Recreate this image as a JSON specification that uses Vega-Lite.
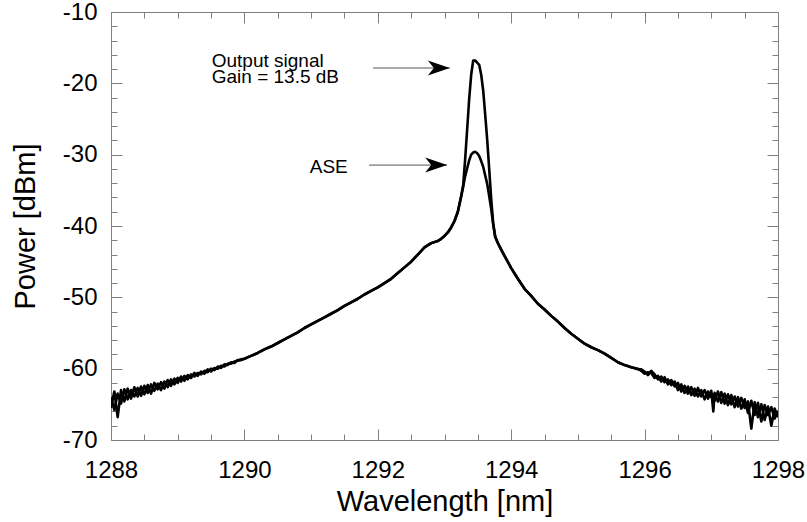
{
  "$schema": "https://vega.github.io/schema/vega-lite/v6.json",
  "width": 667,
  "height": 428,
  "autosize": {"type": "none"},
  "padding": {"left": 111, "top": 12, "right": 29, "bottom": 82},
  "background": "white",
  "config": {"view": {"stroke": null}, "font": "Liberation Sans"},
  "datasets": {
    "spectrum": [
      {"w": 1288.00, "sig": -65.5, "ase": -64.0},
      {"w": 1288.05, "sig": -63.2, "ase": -65.8},
      {"w": 1288.10, "sig": -66.8, "ase": -63.5},
      {"w": 1288.15, "sig": -63.0, "ase": -64.9},
      {"w": 1288.20, "sig": -64.6, "ase": -62.9},
      {"w": 1288.25, "sig": -62.8, "ase": -64.3},
      {"w": 1288.30, "sig": -64.2, "ase": -63.0},
      {"w": 1288.35, "sig": -62.6, "ase": -63.9},
      {"w": 1288.40, "sig": -63.9, "ase": -62.7},
      {"w": 1288.45, "sig": -62.5, "ase": -63.8},
      {"w": 1288.50, "sig": -63.6, "ase": -62.4},
      {"w": 1288.55, "sig": -62.3, "ase": -63.4},
      {"w": 1288.60, "sig": -63.5, "ase": -62.2},
      {"w": 1288.65, "sig": -62.0, "ase": -63.1},
      {"w": 1288.70, "sig": -62.9, "ase": -62.1},
      {"w": 1288.75, "sig": -61.9, "ase": -63.0},
      {"w": 1288.80, "sig": -62.8, "ase": -61.8},
      {"w": 1288.85, "sig": -61.6, "ase": -62.6},
      {"w": 1288.90, "sig": -62.4, "ase": -61.5},
      {"w": 1288.95, "sig": -61.4, "ase": -62.2},
      {"w": 1289.00, "sig": -62.0, "ase": -61.3},
      {"w": 1289.05, "sig": -61.1, "ase": -61.8},
      {"w": 1289.10, "sig": -61.7, "ase": -61.0},
      {"w": 1289.15, "sig": -60.9, "ase": -61.5},
      {"w": 1289.20, "sig": -61.3, "ase": -60.8},
      {"w": 1289.25, "sig": -60.6, "ase": -61.1},
      {"w": 1289.30, "sig": -61.0, "ase": -60.6},
      {"w": 1289.35, "sig": -60.4, "ase": -60.8},
      {"w": 1289.40, "sig": -60.7, "ase": -60.3},
      {"w": 1289.45, "sig": -60.1, "ase": -60.5},
      {"w": 1289.50, "sig": -60.4, "ase": -60.0},
      {"w": 1289.55, "sig": -59.9, "ase": -60.2},
      {"w": 1289.60, "sig": -60.0, "ase": -59.7},
      {"w": 1289.65, "sig": -59.6, "ase": -59.9},
      {"w": 1289.70, "sig": -59.7, "ase": -59.4},
      {"w": 1289.75, "sig": -59.3, "ase": -59.5},
      {"w": 1289.80, "sig": -59.3, "ase": -59.1},
      {"w": 1289.85, "sig": -59.0, "ase": -59.2},
      {"w": 1289.90, "sig": -58.9, "ase": -58.8},
      {"w": 1289.95, "sig": -58.7, "ase": -58.8},
      {"w": 1290.00, "sig": -58.6, "ase": -58.6},
      {"w": 1290.10, "sig": -58.2, "ase": -58.2},
      {"w": 1290.20, "sig": -57.8, "ase": -57.8},
      {"w": 1290.30, "sig": -57.3, "ase": -57.3},
      {"w": 1290.40, "sig": -56.9, "ase": -56.9},
      {"w": 1290.50, "sig": -56.4, "ase": -56.4},
      {"w": 1290.60, "sig": -55.9, "ase": -55.9},
      {"w": 1290.70, "sig": -55.4, "ase": -55.4},
      {"w": 1290.80, "sig": -54.9, "ase": -54.9},
      {"w": 1290.90, "sig": -54.3, "ase": -54.3},
      {"w": 1291.00, "sig": -53.8, "ase": -53.8},
      {"w": 1291.10, "sig": -53.3, "ase": -53.3},
      {"w": 1291.20, "sig": -52.8, "ase": -52.8},
      {"w": 1291.30, "sig": -52.3, "ase": -52.3},
      {"w": 1291.40, "sig": -51.8, "ase": -51.8},
      {"w": 1291.50, "sig": -51.2, "ase": -51.2},
      {"w": 1291.60, "sig": -50.7, "ase": -50.7},
      {"w": 1291.70, "sig": -50.2, "ase": -50.2},
      {"w": 1291.80, "sig": -49.6, "ase": -49.6},
      {"w": 1291.90, "sig": -49.1, "ase": -49.1},
      {"w": 1292.00, "sig": -48.6, "ase": -48.6},
      {"w": 1292.10, "sig": -48.0, "ase": -48.0},
      {"w": 1292.20, "sig": -47.4, "ase": -47.4},
      {"w": 1292.30, "sig": -46.6, "ase": -46.6},
      {"w": 1292.40, "sig": -45.8, "ase": -45.8},
      {"w": 1292.50, "sig": -45.0, "ase": -45.0},
      {"w": 1292.60, "sig": -44.0, "ase": -44.0},
      {"w": 1292.70, "sig": -43.0, "ase": -43.0},
      {"w": 1292.80, "sig": -42.4, "ase": -42.4},
      {"w": 1292.90, "sig": -42.1, "ase": -42.1},
      {"w": 1292.95, "sig": -41.8, "ase": -41.8},
      {"w": 1293.00, "sig": -41.4, "ase": -41.4},
      {"w": 1293.05, "sig": -40.9, "ase": -40.9},
      {"w": 1293.10, "sig": -40.2, "ase": -40.2},
      {"w": 1293.15, "sig": -39.3, "ase": -39.3},
      {"w": 1293.20, "sig": -38.0, "ase": -38.0},
      {"w": 1293.25, "sig": -35.8, "ase": -35.9},
      {"w": 1293.28, "sig": -34.3, "ase": -34.5},
      {"w": 1293.31, "sig": -30.6, "ase": -33.0},
      {"w": 1293.34, "sig": -26.4, "ase": -31.9},
      {"w": 1293.37, "sig": -22.2, "ase": -30.8},
      {"w": 1293.40, "sig": -18.8, "ase": -30.0},
      {"w": 1293.43, "sig": -16.8, "ase": -29.7},
      {"w": 1293.46, "sig": -16.8, "ase": -29.6},
      {"w": 1293.49, "sig": -17.1, "ase": -29.8},
      {"w": 1293.52, "sig": -17.4, "ase": -30.2},
      {"w": 1293.55, "sig": -18.8, "ase": -30.9},
      {"w": 1293.58, "sig": -21.0, "ase": -31.7},
      {"w": 1293.61, "sig": -24.4, "ase": -32.9},
      {"w": 1293.64, "sig": -27.9, "ase": -34.1},
      {"w": 1293.67, "sig": -32.0, "ase": -35.8},
      {"w": 1293.70, "sig": -36.2, "ase": -37.6},
      {"w": 1293.73, "sig": -39.6, "ase": -39.8},
      {"w": 1293.76, "sig": -41.5, "ase": -41.5},
      {"w": 1293.80, "sig": -42.4, "ase": -42.4},
      {"w": 1293.85, "sig": -43.3, "ase": -43.3},
      {"w": 1293.90, "sig": -44.2, "ase": -44.2},
      {"w": 1294.00, "sig": -45.9, "ase": -45.9},
      {"w": 1294.10, "sig": -47.4, "ase": -47.4},
      {"w": 1294.20, "sig": -48.8, "ase": -48.8},
      {"w": 1294.30, "sig": -49.8, "ase": -49.8},
      {"w": 1294.40, "sig": -50.9, "ase": -50.9},
      {"w": 1294.50, "sig": -51.7, "ase": -51.7},
      {"w": 1294.60, "sig": -52.6, "ase": -52.6},
      {"w": 1294.70, "sig": -53.4, "ase": -53.4},
      {"w": 1294.80, "sig": -54.3, "ase": -54.3},
      {"w": 1294.90, "sig": -55.1, "ase": -55.1},
      {"w": 1295.00, "sig": -55.8, "ase": -55.8},
      {"w": 1295.10, "sig": -56.5, "ase": -56.5},
      {"w": 1295.20, "sig": -57.0, "ase": -57.0},
      {"w": 1295.30, "sig": -57.4, "ase": -57.4},
      {"w": 1295.40, "sig": -57.9, "ase": -57.9},
      {"w": 1295.50, "sig": -58.5, "ase": -58.5},
      {"w": 1295.60, "sig": -59.1, "ase": -59.1},
      {"w": 1295.70, "sig": -59.5, "ase": -59.5},
      {"w": 1295.80, "sig": -59.8, "ase": -59.8},
      {"w": 1295.90, "sig": -60.0, "ase": -60.1},
      {"w": 1295.95, "sig": -60.3, "ase": -60.1},
      {"w": 1296.00, "sig": -60.7, "ase": -60.4},
      {"w": 1296.05, "sig": -60.5, "ase": -60.9},
      {"w": 1296.10, "sig": -60.6, "ase": -60.3},
      {"w": 1296.15, "sig": -61.3, "ase": -60.8},
      {"w": 1296.20, "sig": -61.0, "ase": -61.5},
      {"w": 1296.25, "sig": -61.8, "ase": -61.1},
      {"w": 1296.30, "sig": -61.2, "ase": -61.9},
      {"w": 1296.35, "sig": -62.2, "ase": -61.5},
      {"w": 1296.40, "sig": -61.6, "ase": -62.3},
      {"w": 1296.45, "sig": -62.5, "ase": -61.8},
      {"w": 1296.50, "sig": -62.0, "ase": -63.0},
      {"w": 1296.55, "sig": -63.2, "ase": -62.2},
      {"w": 1296.60, "sig": -62.4, "ase": -63.4},
      {"w": 1296.65, "sig": -63.5, "ase": -62.5},
      {"w": 1296.70, "sig": -62.6, "ase": -63.7},
      {"w": 1296.75, "sig": -63.8, "ase": -62.8},
      {"w": 1296.80, "sig": -62.7, "ase": -63.9},
      {"w": 1296.85, "sig": -63.9, "ase": -63.0},
      {"w": 1296.90, "sig": -63.0, "ase": -64.3},
      {"w": 1296.95, "sig": -64.2, "ase": -63.2},
      {"w": 1297.00, "sig": -63.1, "ase": -64.0},
      {"w": 1297.03, "sig": -66.0, "ase": -63.6},
      {"w": 1297.05, "sig": -63.4, "ase": -64.5},
      {"w": 1297.10, "sig": -64.6, "ase": -63.2},
      {"w": 1297.15, "sig": -63.3, "ase": -64.8},
      {"w": 1297.20, "sig": -64.9, "ase": -63.5},
      {"w": 1297.25, "sig": -63.6, "ase": -65.1},
      {"w": 1297.30, "sig": -65.0, "ase": -63.7},
      {"w": 1297.35, "sig": -63.9, "ase": -65.4},
      {"w": 1297.40, "sig": -65.3, "ase": -64.0},
      {"w": 1297.45, "sig": -64.1, "ase": -65.6},
      {"w": 1297.50, "sig": -65.5, "ase": -64.3},
      {"w": 1297.55, "sig": -64.6, "ase": -66.2},
      {"w": 1297.60, "sig": -68.4, "ase": -64.5},
      {"w": 1297.65, "sig": -64.7, "ase": -66.5},
      {"w": 1297.70, "sig": -66.8, "ase": -64.8},
      {"w": 1297.75, "sig": -65.0, "ase": -67.4},
      {"w": 1297.80, "sig": -67.2, "ase": -65.1},
      {"w": 1297.85, "sig": -65.3, "ase": -66.5},
      {"w": 1297.90, "sig": -68.0, "ase": -65.4},
      {"w": 1297.95, "sig": -65.6, "ase": -67.0},
      {"w": 1298.00, "sig": -66.8, "ase": -65.9}
    ],
    "labels": [
      {"w": 1289.51, "p": -17.71, "t": "Output signal"},
      {"w": 1289.51, "p": -19.95, "t": "Gain = 13.5 dB"},
      {"w": 1290.98, "p": -32.57, "t": "ASE"}
    ],
    "arrows": [
      {"w1": 1291.93, "w2": 1293.08, "p": -17.85},
      {"w1": 1291.87, "w2": 1293.04, "p": -31.46}
    ]
  },
  "resolve": {"axis": {"x": "independent", "y": "independent"}},
  "layer": [
    {
      "data": {"name": "spectrum"},
      "transform": [{"fold": ["sig", "ase"], "as": ["series", "p"]}],
      "mark": {"type": "line", "color": "black", "strokeWidth": 2.6, "strokeJoin": "round", "clip": true},
      "encoding": {
        "x": {
          "field": "w", "type": "quantitative",
          "scale": {"domain": [1288, 1298], "nice": false, "zero": false},
          "axis": {
            "orient": "bottom", "title": "Wavelength [nm]", "grid": false,
            "values": [1288, 1288.5, 1289, 1289.5, 1290, 1290.5, 1291, 1291.5, 1292, 1292.5, 1293, 1293.5, 1294, 1294.5, 1295, 1295.5, 1296, 1296.5, 1297, 1297.5, 1298],
            "labelExpr": "datum.value % 2 === 0 ? toString(datum.value) : ''",
            "tickSize": {"condition": {"test": "datum.value % 2 === 0", "value": -11}, "value": -6},
            "tickColor": "#808080", "domainColor": "#808080", "tickWidth": 1, "domainWidth": 1,
            "labelFont": "Liberation Sans", "labelFontSize": 24, "labelColor": "black", "labelPadding": 29,
            "labelFlush": false, "labelOverlap": false,
            "titleFont": "Liberation Sans", "titleFontSize": 29, "titleFontWeight": "normal", "titleColor": "black", "titlePadding": 0
          }
        },
        "y": {
          "field": "p", "type": "quantitative",
          "scale": {"domain": [-70, -10], "nice": false, "zero": false},
          "axis": {
            "orient": "left", "title": "Power [dBm]", "grid": false,
            "values": [-70, -68, -66, -64, -62, -60, -58, -56, -54, -52, -50, -48, -46, -44, -42, -40, -38, -36, -34, -32, -30, -28, -26, -24, -22, -20, -18, -16, -14, -12, -10],
            "labelExpr": "datum.value % 10 === 0 ? toString(datum.value) : ''",
            "tickSize": {"condition": {"test": "datum.value % 10 === 0", "value": -11}, "value": -6},
            "tickColor": "#808080", "domainColor": "#808080", "tickWidth": 1, "domainWidth": 1,
            "labelFont": "Liberation Sans", "labelFontSize": 24, "labelColor": "black", "labelPadding": 25,
            "labelFlush": false, "labelOverlap": false,
            "titleFont": "Liberation Sans", "titleFontSize": 29, "titleFontWeight": "normal", "titleColor": "black", "titlePadding": 22
          }
        },
        "detail": {"field": "series"}
      }
    },
    {
      "data": {"name": "labels"},
      "mark": {"type": "text", "align": "left", "baseline": "alphabetic", "font": "Liberation Sans", "fontSize": 19, "color": "black"},
      "encoding": {
        "x": {
          "field": "w", "type": "quantitative",
          "axis": {
            "orient": "top", "title": null, "grid": false, "labels": false,
            "values": [1288, 1288.5, 1289, 1289.5, 1290, 1290.5, 1291, 1291.5, 1292, 1292.5, 1293, 1293.5, 1294, 1294.5, 1295, 1295.5, 1296, 1296.5, 1297, 1297.5, 1298],
            "tickSize": {"condition": {"test": "datum.value % 2 === 0", "value": -11}, "value": -6},
            "tickColor": "#808080", "domainColor": "#808080", "tickWidth": 1, "domainWidth": 1
          }
        },
        "y": {
          "field": "p", "type": "quantitative",
          "axis": {
            "orient": "right", "title": null, "grid": false, "labels": false,
            "values": [-70, -68, -66, -64, -62, -60, -58, -56, -54, -52, -50, -48, -46, -44, -42, -40, -38, -36, -34, -32, -30, -28, -26, -24, -22, -20, -18, -16, -14, -12, -10],
            "tickSize": {"condition": {"test": "datum.value % 10 === 0", "value": -11}, "value": -6},
            "tickColor": "#808080", "domainColor": "#808080", "tickWidth": 1, "domainWidth": 1
          }
        },
        "text": {"field": "t"}
      }
    },
    {
      "data": {"name": "arrows"},
      "mark": {"type": "rule", "color": "#555555", "strokeWidth": 1},
      "encoding": {
        "x": {"field": "w1", "type": "quantitative", "axis": null},
        "x2": {"field": "w2"},
        "y": {"field": "p", "type": "quantitative", "axis": null}
      }
    },
    {
      "data": {"name": "arrows"},
      "mark": {"type": "point", "shape": "M0,0 L-2,-0.68 L-1.45,0 L-2,0.68 Z", "filled": true, "color": "black", "opacity": 1, "size": 484, "strokeWidth": 0},
      "encoding": {
        "x": {"field": "w2", "type": "quantitative", "axis": null},
        "y": {"field": "p", "type": "quantitative", "axis": null}
      }
    }
  ]
}
